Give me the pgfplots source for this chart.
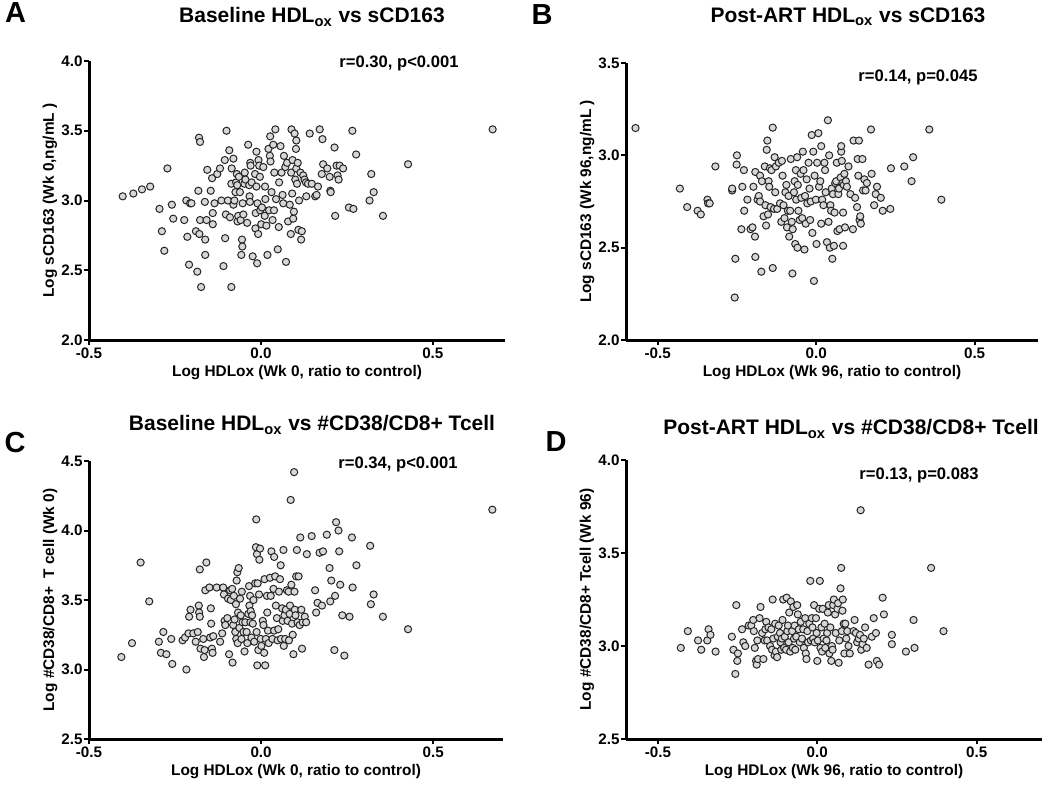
\documentclass[border=0pt]{standalone}
\usepackage{fontspec}
\setmainfont{Liberation Sans}
\usepackage{pgfplots}
\pgfplotsset{compat=1.18}
\definecolor{dotfill}{RGB}{215,215,215}
\newcommand{\tickfont}{\bfseries\fontsize{7.6}{8}\selectfont}
\pgfplotsset{
 panel/.style={
  scale only axis, anchor=south west, clip=false,
  axis x line*=bottom, axis y line*=left,
  axis line style={line width=1.5pt, black},
  tick align=outside, major tick length=2.5pt,
  tick style={line width=1pt, black},
  xticklabel style={font=\tickfont, inner sep=1pt},
  yticklabel style={font=\tickfont, inner sep=0.5pt},
  label style={font=\bfseries\fontsize{7.7}{9}\selectfont},
  xlabel style={at={(axis description cs:0.5,-0.118)}, anchor=center},
  ylabel style={at={(axis description cs:-0.094,0.5)}, anchor=center, rotate=0},
  xtick={-0.5,0,0.5}, xticklabels={-0.5,0.0,0.5},
 },
 dots/.style={only marks, mark=*, mark size=1.8pt,
  mark options={fill=dotfill, draw=black!85, line width=0.5pt}},
}
\begin{document}
\begin{tikzpicture}
\path[use as bounding box] (0,0) rectangle (525pt,-392pt);
% ---------- A ----------
\begin{axis}[panel, at={(44.5pt,-170pt)}, width=208pt, height=139.5pt,
  xmin=-0.5, xmax=0.71, ymin=2, ymax=4,
  ytick={2,2.5,3,3.5,4}, yticklabels={2.0,2.5,3.0,3.5,4.0},
  xlabel={Log HDLox (Wk 0, ratio to control)},
  ylabel={Log sCD163 (Wk 0,ng/mL )}]
\addplot[dots] coordinates {
(-0.402,3.03)(-0.371,3.05)(-0.346,3.08)(-0.322,3.10)(-0.295,2.94)(-0.288,2.78)(-0.281,2.64)(-0.272,3.23)
(-0.259,2.97)(-0.255,2.87)(-0.223,2.86)(-0.217,3.00)(-0.214,2.74)(-0.209,2.54)(-0.206,2.98)(-0.202,2.98)
(-0.189,2.78)(-0.185,2.49)(-0.182,3.07)(-0.180,3.45)(-0.177,3.42)(-0.177,2.86)(-0.179,2.76)(-0.174,2.38)
(-0.163,2.99)(-0.162,2.72)(-0.162,2.61)(-0.158,2.86)(-0.156,3.22)(-0.146,3.07)(-0.142,3.16)(-0.140,2.91)
(-0.140,2.83)(-0.135,2.98)(-0.127,3.19)(-0.119,3.23)(-0.115,3.00)(-0.109,2.53)(-0.105,3.29)(-0.104,2.73)
(-0.102,2.90)(-0.100,3.50)(-0.096,3.00)(-0.092,3.36)(-0.090,2.88)(-0.086,2.38)(-0.085,3.23)(-0.086,3.12)
(-0.080,3.30)(-0.080,2.97)(-0.077,3.00)(-0.074,3.06)(-0.072,3.13)(-0.070,3.19)(-0.069,3.11)(-0.068,2.85)
(-0.066,2.89)(-0.064,3.17)(-0.061,3.06)(-0.059,2.86)(-0.055,2.72)(-0.054,2.67)(-0.057,2.61)(-0.053,2.98)
(-0.051,2.90)(-0.048,3.12)(-0.047,3.20)(-0.045,3.15)(-0.040,2.84)(-0.037,3.40)(-0.034,3.11)(-0.033,3.03)
(-0.032,2.99)(-0.031,3.27)(-0.030,3.25)(-0.027,3.13)(-0.024,2.60)(-0.017,3.19)(-0.016,2.80)(-0.015,2.91)
(-0.013,3.35)(-0.013,3.10)(-0.011,2.55)(-0.010,2.98)(-0.008,2.76)(-0.007,3.29)(-0.005,3.25)(-0.003,3.17)
(-0.002,2.93)(0.001,2.83)(0.003,2.95)(0.007,3.24)(0.011,2.89)(0.012,3.10)(0.013,3.01)(0.016,2.82)
(0.019,2.61)(0.022,3.37)(0.024,2.93)(0.026,3.32)(0.027,3.46)(0.028,3.28)(0.031,3.06)(0.034,2.86)
(0.036,3.40)(0.038,2.93)(0.039,3.20)(0.042,3.51)(0.044,3.01)(0.049,2.65)(0.052,2.81)(0.053,3.13)
(0.057,3.39)(0.060,3.20)(0.063,3.04)(0.065,2.98)(0.067,3.32)(0.071,3.24)(0.073,2.56)(0.076,3.27)
(0.079,2.85)(0.084,2.97)(0.087,2.76)(0.088,3.20)(0.089,3.51)(0.091,3.05)(0.092,3.29)(0.094,2.87)
(0.096,2.92)(0.098,3.48)(0.100,3.15)(0.102,3.37)(0.103,3.43)(0.103,3.23)(0.105,3.12)(0.107,3.27)
(0.109,2.79)(0.111,3.00)(0.115,3.20)(0.117,2.72)(0.119,2.78)(0.123,3.18)(0.127,3.15)(0.131,3.13)
(0.132,3.03)(0.137,3.12)(0.142,3.48)(0.148,3.12)(0.158,3.03)(0.162,3.04)(0.166,3.10)(0.171,3.51)
(0.177,3.19)(0.179,3.44)(0.181,3.26)(0.193,3.23)(0.200,3.17)(0.202,3.07)(0.203,3.06)(0.214,3.38)
(0.216,2.89)(0.220,3.25)(0.223,3.18)(0.226,3.15)(0.229,3.25)(0.239,3.23)(0.256,2.95)(0.266,3.50)
(0.269,2.94)(0.277,3.33)(0.316,3.00)(0.321,3.19)(0.328,3.06)(0.355,2.89)(0.428,3.26)(0.674,3.51)
};
\end{axis}
% ---------- B ----------
\begin{axis}[panel, at={(313pt,-170pt)}, width=206pt, height=138.5pt,
  xmin=-0.6, xmax=0.7, ymin=2, ymax=3.5,
  ytick={2,2.5,3,3.5}, yticklabels={2.0,2.5,3.0,3.5},
  xlabel={Log HDLox (Wk 96, ratio to control)},
  ylabel={Log sCD163 (Wk 96,ng/mL )}]
\addplot[dots] coordinates {
(-0.570,3.148)(-0.430,2.82)(-0.407,2.72)(-0.374,2.70)(-0.364,2.68)(-0.343,2.76)(-0.341,2.74)(-0.336,2.74)
(-0.318,2.94)(-0.265,2.81)(-0.265,2.82)(-0.257,2.23)(-0.255,2.44)(-0.251,2.95)(-0.250,3.00)(-0.236,2.60)
(-0.233,2.83)(-0.228,2.92)(-0.227,2.70)(-0.217,2.76)(-0.207,2.60)(-0.201,2.61)(-0.198,2.83)(-0.193,2.56)
(-0.192,2.91)(-0.192,2.45)(-0.185,2.76)(-0.181,2.78)(-0.177,2.89)(-0.177,2.75)(-0.173,2.37)(-0.171,2.86)
(-0.166,2.67)(-0.162,2.94)(-0.160,2.73)(-0.158,2.62)(-0.156,3.03)(-0.154,3.08)(-0.152,2.68)(-0.150,2.86)
(-0.148,2.83)(-0.146,2.93)(-0.144,2.72)(-0.141,2.92)(-0.137,3.15)(-0.137,2.39)(-0.133,2.71)(-0.131,2.99)
(-0.129,2.80)(-0.127,2.94)(-0.123,2.71)(-0.118,2.96)(-0.114,2.74)(-0.110,2.64)(-0.108,2.97)(-0.106,2.89)
(-0.103,2.73)(-0.100,2.66)(-0.097,2.80)(-0.094,2.84)(-0.092,2.61)(-0.089,2.70)(-0.087,2.78)(-0.085,2.56)
(-0.082,2.70)(-0.080,2.98)(-0.077,2.64)(-0.075,2.36)(-0.074,2.60)(-0.070,2.80)(-0.068,2.86)(-0.066,2.52)
(-0.064,2.92)(-0.063,2.76)(-0.060,2.99)(-0.059,2.50)(-0.058,2.84)(-0.056,2.70)(-0.052,2.65)(-0.049,2.90)
(-0.047,2.77)(-0.044,2.66)(-0.042,3.02)(-0.040,2.92)(-0.037,2.49)(-0.035,2.78)(-0.033,2.63)(-0.030,2.87)
(-0.028,2.74)(-0.024,2.96)(-0.021,2.82)(-0.019,2.65)(-0.017,2.75)(-0.014,3.11)(-0.012,2.58)(-0.009,3.02)
(-0.007,2.32)(-0.005,2.89)(-0.001,2.76)(0.001,2.52)(0.003,2.96)(0.007,3.12)(0.009,2.83)(0.013,2.86)
(0.016,3.05)(0.016,2.63)(0.019,2.76)(0.023,2.73)(0.026,2.96)(0.028,2.92)(0.030,2.80)(0.034,2.53)
(0.037,3.19)(0.039,2.64)(0.041,3.00)(0.043,2.50)(0.045,2.73)(0.047,2.70)(0.049,2.82)(0.051,2.44)
(0.053,2.79)(0.056,2.51)(0.058,2.69)(0.060,2.85)(0.063,2.86)(0.065,2.96)(0.067,2.59)(0.070,2.79)
(0.072,2.82)(0.074,2.60)(0.077,2.88)(0.079,3.02)(0.079,3.05)(0.081,2.97)(0.083,2.85)(0.085,2.69)
(0.085,2.51)(0.087,2.84)(0.089,2.90)(0.091,2.61)(0.094,2.86)(0.097,2.83)(0.102,2.94)(0.108,2.79)
(0.116,2.60)(0.118,3.08)(0.123,2.77)(0.129,2.72)(0.131,2.98)(0.133,2.89)(0.135,3.08)(0.137,2.65)
(0.139,2.67)(0.141,2.63)(0.146,2.98)(0.148,2.81)(0.152,2.87)(0.156,2.81)(0.160,2.85)(0.173,3.14)
(0.175,2.90)(0.183,2.73)(0.188,2.79)(0.192,2.83)(0.204,2.77)(0.210,2.70)(0.234,2.71)(0.236,2.93)
(0.278,2.94)(0.301,2.86)(0.306,2.99)(0.357,3.14)(0.395,2.76)
};
\end{axis}
% ---------- C ----------
\begin{axis}[panel, at={(44.5pt,-369.5pt)}, width=207pt, height=139pt,
  xmin=-0.5, xmax=0.703, ymin=2.5, ymax=4.5,
  ytick={2.5,3,3.5,4,4.5}, yticklabels={2.5,3.0,3.5,4.0,4.5},
  xlabel={Log HDLox (Wk 0, ratio to control)},
  ylabel={Log \#CD38/CD8+\ \ T cell (Wk 0)}]
\addplot[dots] coordinates {
(-0.406,3.09)(-0.375,3.19)(-0.350,3.77)(-0.325,3.49)(-0.297,3.20)(-0.291,3.12)(-0.284,3.27)(-0.275,3.11)
(-0.261,3.22)(-0.258,3.04)(-0.228,3.21)(-0.221,3.23)(-0.217,3.00)(-0.211,3.26)(-0.209,3.38)(-0.205,3.43)
(-0.197,3.26)(-0.190,3.20)(-0.184,3.27)(-0.181,3.46)(-0.180,3.41)(-0.178,3.72)(-0.178,3.38)(-0.176,3.15)
(-0.168,3.22)(-0.166,3.09)(-0.164,3.14)(-0.162,3.57)(-0.159,3.77)(-0.150,3.59)(-0.148,3.23)(-0.146,3.44)
(-0.145,3.33)(-0.143,3.15)(-0.141,3.12)(-0.139,3.24)(-0.129,3.59)(-0.119,3.20)(-0.113,3.26)(-0.110,3.59)
(-0.108,3.54)(-0.106,3.35)(-0.104,3.32)(-0.098,3.37)(-0.096,3.51)(-0.093,3.11)(-0.090,3.57)(-0.088,3.50)
(-0.084,3.58)(-0.083,3.05)(-0.081,3.32)(-0.079,3.53)(-0.077,3.36)(-0.075,3.27)(-0.073,3.47)(-0.072,3.22)
(-0.071,3.64)(-0.069,3.70)(-0.068,3.19)(-0.067,3.41)(-0.065,3.73)(-0.063,3.30)(-0.061,3.51)(-0.059,3.39)
(-0.057,3.22)(-0.056,3.56)(-0.054,3.34)(-0.051,3.27)(-0.048,3.13)(-0.046,3.34)(-0.042,3.27)(-0.040,3.19)
(-0.037,3.40)(-0.035,3.60)(-0.034,3.46)(-0.032,3.53)(-0.031,3.34)(-0.030,3.42)(-0.028,3.23)(-0.026,3.39)
(-0.024,3.33)(-0.022,3.50)(-0.020,3.20)(-0.017,3.62)(-0.015,3.88)(-0.014,4.08)(-0.013,3.27)(-0.012,3.83)
(-0.011,3.03)(-0.010,3.62)(-0.008,3.14)(-0.006,3.54)(-0.005,3.79)(-0.003,3.87)(-0.001,3.22)(0.001,3.17)
(0.005,3.35)(0.007,3.32)(0.009,3.12)(0.010,3.65)(0.012,3.03)(0.014,3.22)(0.017,3.53)(0.018,3.41)
(0.020,3.28)(0.022,3.19)(0.026,3.66)(0.028,3.53)(0.030,3.85)(0.033,3.22)(0.036,3.58)(0.038,3.81)
(0.038,3.28)(0.041,3.67)(0.043,3.46)(0.046,3.37)(0.048,3.21)(0.050,3.29)(0.052,3.56)(0.055,3.65)
(0.057,3.75)(0.058,3.22)(0.061,3.44)(0.063,3.35)(0.065,3.86)(0.066,3.17)(0.068,3.39)(0.070,3.22)
(0.072,3.43)(0.075,3.57)(0.077,3.35)(0.080,3.56)(0.081,3.21)(0.083,3.40)(0.084,3.46)(0.086,4.22)
(0.088,3.61)(0.090,3.33)(0.092,3.25)(0.094,3.11)(0.096,4.42)(0.097,3.56)(0.098,3.43)(0.100,3.39)
(0.102,3.67)(0.104,3.86)(0.106,3.34)(0.109,3.67)(0.112,3.32)(0.114,3.95)(0.117,3.43)(0.119,3.15)
(0.121,3.34)(0.127,3.38)(0.131,3.34)(0.133,3.83)(0.147,3.96)(0.157,3.57)(0.160,3.41)(0.164,3.48)
(0.170,3.84)(0.177,3.46)(0.180,3.85)(0.191,3.97)(0.199,3.73)(0.201,3.49)(0.204,3.64)(0.213,3.14)
(0.215,3.53)(0.218,4.06)(0.225,4.00)(0.227,3.85)(0.230,3.61)(0.236,3.39)(0.242,3.10)(0.257,3.38)
(0.264,3.95)(0.266,3.59)(0.277,3.75)(0.317,3.89)(0.319,3.47)(0.327,3.54)(0.354,3.38)(0.427,3.29)
(0.672,4.15)
};
\end{axis}
% ---------- D ----------
\begin{axis}[panel, at={(313pt,-369.5pt)}, width=208pt, height=139.5pt,
  xmin=-0.6, xmax=0.705, ymin=2.5, ymax=4,
  ytick={2.5,3,3.5,4}, yticklabels={2.5,3.0,3.5,4.0},
  xlabel={Log HDLox (Wk 96, ratio to control)},
  ylabel={Log \#CD38/CD8+ Tcell (Wk 96)}]
\addplot[dots] coordinates {
(-0.428,2.99)(-0.406,3.08)(-0.374,3.03)(-0.364,2.98)(-0.345,3.03)(-0.341,3.09)(-0.335,3.06)(-0.319,2.97)
(-0.268,3.05)(-0.263,2.98)(-0.257,2.85)(-0.254,3.22)(-0.251,2.92)(-0.249,2.96)(-0.236,3.09)(-0.232,3.02)
(-0.226,3.00)(-0.215,3.11)(-0.207,3.11)(-0.201,3.14)(-0.199,3.08)(-0.196,2.99)(-0.192,2.92)(-0.190,2.90)
(-0.188,3.03)(-0.186,2.93)(-0.181,3.15)(-0.178,3.21)(-0.173,3.07)(-0.169,2.93)(-0.165,3.03)(-0.163,3.09)
(-0.160,3.13)(-0.157,3.03)(-0.153,3.10)(-0.148,3.00)(-0.144,3.09)(-0.142,2.98)(-0.140,3.25)(-0.138,3.04)
(-0.134,2.95)(-0.132,3.12)(-0.130,2.97)(-0.126,2.94)(-0.124,3.05)(-0.121,3.11)(-0.117,3.07)(-0.115,3.02)
(-0.113,2.98)(-0.111,3.04)(-0.109,3.14)(-0.107,3.25)(-0.104,2.99)(-0.102,3.05)(-0.098,2.98)(-0.096,3.26)
(-0.094,3.08)(-0.092,3.11)(-0.090,3.02)(-0.088,3.18)(-0.085,2.97)(-0.083,3.24)(-0.079,3.08)(-0.077,2.99)
(-0.075,3.21)(-0.073,3.04)(-0.071,3.11)(-0.069,2.98)(-0.066,3.05)(-0.063,3.22)(-0.061,3.17)(-0.058,3.09)
(-0.055,3.02)(-0.052,3.13)(-0.048,3.04)(-0.044,3.09)(-0.042,2.99)(-0.038,3.15)(-0.036,2.96)(-0.034,2.93)
(-0.031,3.08)(-0.029,3.02)(-0.025,3.12)(-0.022,3.35)(-0.020,3.03)(-0.017,3.15)(-0.015,3.10)(-0.013,3.04)
(-0.010,3.22)(-0.008,3.02)(-0.004,3.15)(-0.002,3.07)(0.000,2.92)(0.002,3.03)(0.006,3.20)(0.008,3.35)
(0.010,2.99)(0.013,3.10)(0.015,2.97)(0.017,3.20)(0.020,3.04)(0.023,3.12)(0.025,2.99)(0.029,3.03)
(0.031,3.07)(0.033,3.18)(0.036,3.22)(0.038,2.96)(0.041,3.10)(0.044,2.92)(0.046,3.00)(0.048,2.98)
(0.050,3.22)(0.052,3.25)(0.056,3.17)(0.058,3.07)(0.063,3.20)(0.065,3.23)(0.067,2.91)(0.069,3.03)
(0.073,3.31)(0.075,3.42)(0.077,3.08)(0.079,3.19)(0.080,3.25)(0.083,3.12)(0.085,2.96)(0.088,3.12)
(0.091,3.04)(0.094,3.08)(0.098,3.00)(0.102,2.96)(0.114,3.08)(0.117,3.14)(0.121,3.07)(0.125,3.02)
(0.130,3.04)(0.134,3.06)(0.136,3.73)(0.138,2.98)(0.142,3.01)(0.146,3.04)(0.150,3.10)(0.155,2.99)
(0.161,2.90)(0.171,3.05)(0.177,3.15)(0.184,3.07)(0.187,2.92)(0.194,2.90)(0.205,3.26)(0.209,3.17)
(0.234,3.06)(0.234,3.01)(0.278,2.97)(0.302,3.14)(0.305,2.99)(0.357,3.42)(0.396,3.08)
};
\end{axis}
% ---------- titles, letters, statistics ----------
\begin{scope}[font=\bfseries\fontsize{10.5}{12}\selectfont]
\node at (156pt,-8.5pt) {Baseline HDL\textsubscript{ox} vs sCD163};
\node at (424pt,-8.5pt) {Post-ART HDL\textsubscript{ox} vs sCD163};
\node at (156pt,-212.5pt) {Baseline HDL\textsubscript{ox} vs \#CD38/CD8+ Tcell};
\node at (425.5pt,-214.5pt) {Post-ART HDL\textsubscript{ox} vs \#CD38/CD8+ Tcell};
\end{scope}
\begin{scope}[font=\bfseries\fontsize{14.5}{16}\selectfont]
\node at (7.75pt,-6.5pt) {A};
\node at (271pt,-7.5pt) {B};
\node at (7.5pt,-221.5pt) {C};
\node at (278pt,-221pt) {D};
\end{scope}
\begin{scope}[font=\bfseries\fontsize{8.3}{10}\selectfont]
\node at (199.5pt,-31.5pt) {r=0.30, p<0.001};
\node at (459pt,-38.5pt) {r=0.14, p=0.045};
\node at (199pt,-232pt) {r=0.34, p<0.001};
\node at (459.5pt,-237.5pt) {r=0.13, p=0.083};
\end{scope}
\end{tikzpicture}
\end{document}
